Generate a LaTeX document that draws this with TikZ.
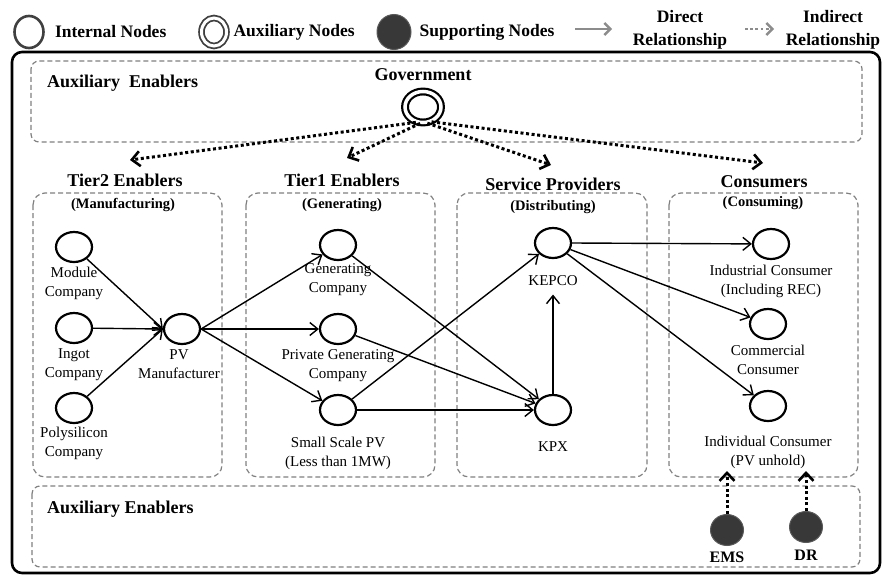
\documentclass[tikz,border=0pt]{standalone}
\usepackage{fontspec}
\setmainfont{Liberation Serif}
\usetikzlibrary{arrows.meta, shapes.geometric, positioning}
\tikzstyle{n}=[ellipse, draw, line width=2.2pt, minimum width=36pt, minimum height=30pt, inner sep=0pt]
\tikzstyle{an}=[n, double, double distance=3.5pt, line width=2.2pt, minimum width=36pt, minimum height=31pt]
\tikzstyle{sn}=[ellipse, fill=black!78, draw=black!65, line width=1pt, minimum width=33pt, minimum height=31pt, inner sep=0pt]
\tikzstyle{lbl}=[font=\fontsize{15}{19}\selectfont, align=center, inner sep=1pt]
\tikzstyle{ttl}=[font=\fontsize{18}{22}\selectfont\bfseries, inner sep=1pt]
\tikzstyle{sub}=[font=\fontsize{14.5}{17}\selectfont\bfseries, inner sep=1pt]
\tikzstyle{leg}=[font=\fontsize{17.5}{23}\selectfont\bfseries, align=center, inner sep=1pt]
\tikzstyle{grp}=[draw=black!50, dash pattern=on 5pt off 3pt, line width=1.2pt, rounded corners=12pt]
\tikzstyle{dir}=[-{Straight Barb[length=8pt,width=13pt,line width=1.4pt]}, line width=1.4pt]
\tikzstyle{ind}=[-{Straight Barb[length=8pt,width=15pt,line width=2.6pt]}, line width=3pt, dash pattern=on 3pt off 2.6pt]

\begin{document}
\begin{tikzpicture}[x=1pt, y=-1pt]
 \useasboundingbox (0,0) rectangle (888,575);

 % legend
 \node[n, draw=black!75, line width=2.6pt, minimum width=29pt, minimum height=32pt] (lgI) at (29,32) {};
 \node[leg, right=9pt of lgI] {Internal Nodes};
 \node[an, draw=black!75, line width=1.8pt, double distance=3pt, minimum width=25pt, minimum height=28pt] (lgA) at (214,32) {};
 \node[leg, right=5pt of lgA] {Auxiliary Nodes};
 \node[sn, minimum width=34pt, minimum height=35pt] (lgS) at (394,32) {};
 \node[leg, right=7pt of lgS] {Supporting Nodes};
 \coordinate (lgD1) at (575,29);
 \coordinate (lgD2) at (612,29);
 \draw[black!45, line width=2.8pt, -{Straight Barb[length=6pt,width=12pt,line width=2.4pt]}] (lgD1) -- (lgD2);
 \node[leg] at (680,30) {Direct\\Relationship};
 \coordinate (lgI1) at (745,29);
 \coordinate (lgI2) at (774,29);
 \draw[black!45, line width=2.8pt, dash pattern=on 2.8pt off 2.4pt, -{Straight Barb[length=6pt,width=12pt,line width=2.4pt]}] (lgI1) -- (lgI2);
 \node[leg] at (833,30) {Indirect\\Relationship};

 % frames
 \draw[line width=2.6pt, rounded corners=10pt] (12,52) rectangle (880,573);
 \draw[grp, rounded corners=8pt] (31,61) rectangle (862,142);
 \draw[grp] (33,193) rectangle (222,477);
 \draw[grp] (246,193) rectangle (435,477);
 \draw[grp] (457,193) rectangle (647,477);
 \draw[grp] (669,193) rectangle (858,477);
 \draw[grp, rounded corners=8pt] (32,486) rectangle (860,567);

 \node[ttl, anchor=west] at (46,83) {Auxiliary\ \ Enablers};
 \node[ttl, anchor=west] at (46,509) {Auxiliary Enablers};

 % government
 \node[ttl] at (423,75) {Government};
 \node[an] (gov) at (423,107) {};
 \coordinate (tr2) at (130,160);
 \coordinate (tr1) at (347,158);
 \coordinate (svc) at (551,165);
 \coordinate (csm) at (763,163);
 \draw[ind] (gov.-115) -- (tr2);
 \draw[ind] (gov.-100) -- (tr1);
 \draw[ind] (gov.-75) -- (svc);
 \draw[ind] (gov.-60) -- (csm);

 % group titles
 \node[ttl] at (125,180) {Tier2 Enablers};
 \node[sub] at (123,205) {(Manufacturing)};
 \node[ttl] at (342,180) {Tier1 Enablers};
 \node[sub] at (342,205) {(Generating)};
 \node[ttl] at (553,184) {Service Providers};
 \node[sub] at (553,207) {(Distributing)};
 \node[ttl] at (764,182) {Consumers};
 \node[sub] at (763,203) {(Consuming)};

 % tier2
 \node[n] (mod) at (74,247) {};
 \node[lbl, below=3pt of mod] {Module\\Company};
 \node[n] (ing) at (74,328) {};
 \node[lbl, below=3pt of ing] {Ingot\\Company};
 \node[n] (pol) at (74,408) {};
 \node[lbl, below=2pt of pol] {Polysilicon\\Company};
 \node[n] (pvm) at (182,329) {};
 \node[lbl, below=3pt of pvm, xshift=-3pt] {PV\\Manufacturer};

 % tier1
 \node[n] (gen) at (338,245) {};
 \node[lbl, below=1pt of gen] {Generating\\Company};
 \node[n] (pgc) at (338,329) {};
 \node[lbl, below=3pt of pgc] {Private Generating\\Company};
 \node[n] (ssp) at (338,410) {};
 \node[lbl, below=10pt of ssp] {Small Scale PV\\(Less than 1MW)};

 % service providers
 \node[n] (kep) at (553,243) {};
 \node[lbl, below=15pt of kep] (kepL) {KEPCO};
 \node[n] (kpx) at (553,410) {};
 \node[lbl, below=14pt of kpx] {KPX};

 % consumers
 \node[n] (ind) at (771,244) {};
 \node[lbl, below=4pt of ind] {Industrial Consumer\\(Including REC)};
 \node[n] (com) at (768,324) {};
 \node[lbl, below=4pt of com] {Commercial\\Consumer};
 \node[n] (idv) at (768,406) {};
 \node[lbl, below=13pt of idv] (idvL) {Individual Consumer\\(PV unhold)};

 % supporting
 \node[sn] (ems) at (727,530) {};
 \node[ttl, font=\fontsize{16}{19}\selectfont\bfseries] at (727,557) {EMS};
 \node[sn] (drs) at (806,527) {};
 \node[ttl, font=\fontsize{16}{19}\selectfont\bfseries] at (806,555) {DR};
 \coordinate (emsT) at (727,471);
 \coordinate (drsT) at (806,471);
 \draw[ind] (ems) -- (emsT);
 \draw[ind] (drs) -- (drsT);

 % direct relationships
 \draw[dir] (mod) -- (pvm.west);
 \draw[dir] (ing) -- (pvm.west);
 \draw[dir] (pol) -- (pvm.west);
 \draw[dir] (pvm.east) -- (gen);
 \draw[dir] (pvm.east) -- (pgc);
 \draw[dir] (pvm.east) -- (ssp);
 \draw[dir] (gen) -- (kpx);
 \draw[dir] (pgc) -- (kpx);
 \draw[dir] (ssp) -- (kpx);
 \draw[dir] (ssp) -- (kep);
 \draw[dir, shorten >=8pt] (kpx) -- (kepL);
 \draw[dir] (kep.east) -- (ind);
 \draw[dir] (kep) -- (com);
 \draw[dir] (kep) -- (idv);
\end{tikzpicture}
\end{document}
